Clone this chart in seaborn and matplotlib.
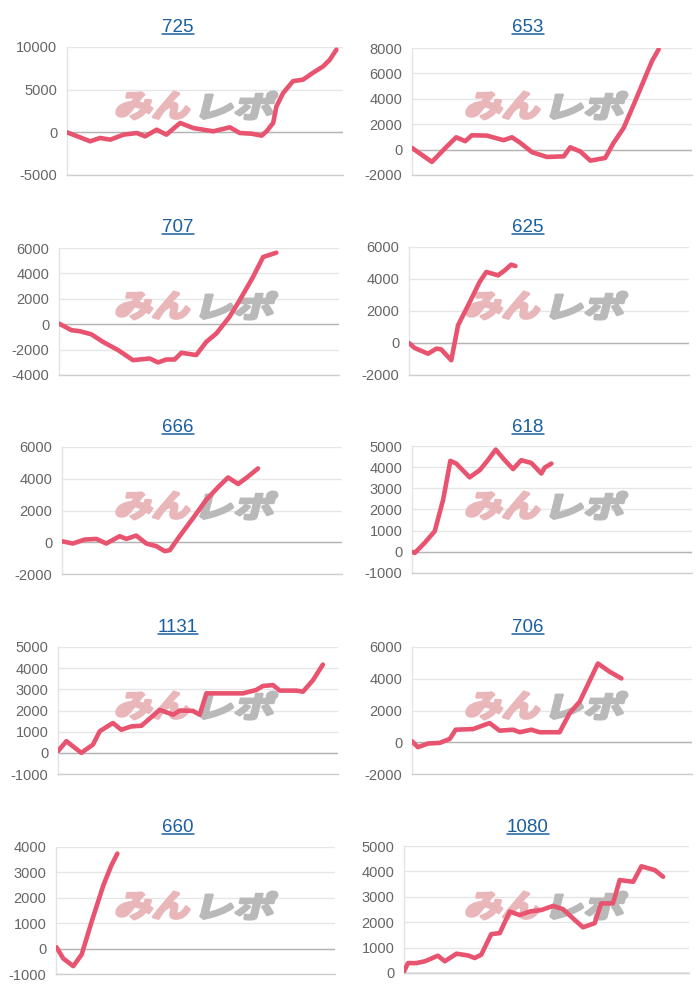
import matplotlib
matplotlib.use("Agg")
import matplotlib.pyplot as plt
import seaborn as sns
import pandas as pd
from matplotlib.textpath import TextPath
from matplotlib.font_manager import FontProperties
from matplotlib.patches import PathPatch
from matplotlib.transforms import Affine2D, IdentityTransform
from matplotlib.lines import Line2D

# ---------------- data ----------------
titles = ["725", "653", "707", "625", "666", "618", "1131", "706", "660", "1080"]

# x = progress of the day (0-100 % of the common x range), y = difference in medals
x_725 = [0, 8.4, 12, 15.7, 20.5, 25.3, 28.3, 32.5, 36, 41, 45.8, 53, 59, 62.6, 66.9, 70.5, 72.3, 74.7, 75.9, 78.3, 81.9, 85.5, 89, 92.8, 95.2, 97.6]
y_725 = [0, -1050, -660, -860, -270, -80, -470, 310, -270, 1100, 500, 120, 590, -80, -160, -390, 120, 1100, 3050, 4600, 6000, 6170, 6950, 7730, 8500, 9690]

x_653 = [0, 7.1, 12.5, 15.8, 19, 21.4, 26.8, 32.7, 35.7, 38.7, 42.9, 48.2, 54.2, 56.5, 60.1, 63.7, 69, 72, 75.6, 79.2, 82.7, 85.7, 88.1]
y_653 = [130, -970, 260, 970, 660, 1130, 1100, 740, 970, 530, -210, -580, -530, 180, -150, -870, -660, 530, 1710, 3550, 5390, 6970, 7900]

x_707 = [0, 4.4, 7.4, 11.5, 15.7, 21.1, 26.4, 32.4, 35.4, 38.3, 41.3, 43.7, 49, 52.6, 56.2, 60.9, 64.5, 69.3, 72.9, 77.6]
y_707 = [50, -470, -550, -790, -1390, -2040, -2830, -2700, -3010, -2780, -2780, -2250, -2430, -1390, -730, 580, 1880, 3720, 5290, 5630]

x_625 = [0, 2, 6.8, 9.8, 11.5, 15.1, 17.5, 21.7, 25.2, 27.6, 31.8, 34.2, 36.5, 38]
y_625 = [0, -310, -670, -350, -400, -1080, 1100, 2560, 3810, 4440, 4230, 4540, 4900, 4810]

x_666 = [0, 3.9, 8.1, 12.3, 15.8, 20.6, 23, 26.5, 30.1, 33.7, 36.7, 38.5, 42, 46.8, 51.5, 55.7, 59.3, 62.9, 66.4, 70]
y_666 = [60, -80, 170, 210, -80, 380, 210, 420, -80, -250, -560, -500, 380, 1520, 2670, 3460, 4080, 3670, 4130, 4650]

x_618 = [0, 1, 4.5, 8.1, 11.1, 13.7, 15.8, 20.6, 24.2, 27.1, 29.9, 33.1, 36.1, 39, 42.6, 46.2, 47.4, 49.8]
y_618 = [0, -50, 420, 970, 2450, 4300, 4170, 3520, 3860, 4330, 4830, 4330, 3910, 4330, 4200, 3700, 3980, 4170]

x_1131 = [0, 3, 8.3, 12.5, 14.9, 19.6, 22.6, 26.2, 29.8, 36.3, 41.1, 43.5, 48.2, 50.6, 53, 66.1, 70.8, 73.2, 76.8, 79.2, 85.1, 87.5, 91.1, 94.6]
y_1131 = [80, 550, 0, 390, 1020, 1410, 1090, 1250, 1280, 2030, 1800, 2000, 1980, 1800, 2810, 2810, 2970, 3160, 3200, 2940, 2940, 2890, 3440, 4170]

x_706 = [0, 2.1, 5.7, 9.9, 13.5, 15.6, 21.8, 27.7, 31.3, 36.1, 38.5, 42.6, 45.6, 52.7, 56.3, 59.9, 66.4, 70.6, 74.8]
y_706 = [60, -310, -80, -40, 210, 790, 830, 1210, 730, 790, 630, 790, 630, 630, 1830, 2560, 4960, 4440, 4020]

x_660 = [0.2, 2.6, 6.2, 9.2, 12.8, 17, 19.9, 22]
y_660 = [50, -390, -690, -230, 1070, 2500, 3290, 3740]

x_1080 = [0, 1.4, 4.3, 7.3, 11.9, 14.3, 18.4, 22.5, 24.8, 27.1, 30.6, 33.6, 37.1, 40.6, 44.1, 48.2, 52.3, 55.8, 59.3, 62.8, 66.9, 69.2, 73.3, 75.7, 80.4, 83.3, 88, 90.9]
y_1080 = [60, 390, 390, 460, 680, 460, 760, 690, 590, 720, 1530, 1570, 2420, 2280, 2420, 2480, 2640, 2510, 2150, 1800, 1960, 2740, 2740, 3660, 3590, 4200, 4050, 3790]

yticks_725 = [-5000, 0, 5000, 10000]
yticks_653 = [-2000, 0, 2000, 4000, 6000, 8000]
yticks_707 = [-4000, -2000, 0, 2000, 4000, 6000]
yticks_625 = [-2000, 0, 2000, 4000, 6000]
yticks_666 = [-2000, 0, 2000, 4000, 6000]
yticks_618 = [-1000, 0, 1000, 2000, 3000, 4000, 5000]
yticks_1131 = [-1000, 0, 1000, 2000, 3000, 4000, 5000]
yticks_706 = [-2000, 0, 2000, 4000, 6000]
yticks_660 = [-1000, 0, 1000, 2000, 3000, 4000]
yticks_1080 = [0, 1000, 2000, 3000, 4000, 5000]

series_x = [x_725, x_653, x_707, x_625, x_666, x_618, x_1131, x_706, x_660, x_1080]
series_y = [y_725, y_653, y_707, y_625, y_666, y_618, y_1131, y_706, y_660, y_1080]
series_ticks = [yticks_725, yticks_653, yticks_707, yticks_625, yticks_666,
                yticks_618, yticks_1131, yticks_706, yticks_660, yticks_1080]

# ---------------- layout (pixels: left, top, right, bottom) ----------------
boxes = [
    (67, 47, 343, 175), (412, 48, 692, 175),
    (59, 248, 339, 375), (409, 247, 689, 375),
    (62, 447, 342, 574), (412, 446, 692, 573),
    (58, 647, 338, 774), (412, 647, 692, 774),
    (56, 847, 335, 974), (404, 846, 689, 973),
]

sns.set_theme(style="white")
plt.rcParams['font.family'] = ['Liberation Sans', 'DejaVu Sans']

W, H = 700, 1000
fig = plt.figure(figsize=(7, 10), dpi=100)
fig.patch.set_facecolor("white")

LINE = "#e8546f"
TITLE = "#1b5f9e"
wm_fp = FontProperties(family="Noto Sans CJK JP", weight="bold")


def wm_patch(text, x0, x1, ytop, ybot, color):
    tp = TextPath((0, 0), text, size=40, prop=wm_fp)
    ext = tp.get_extents()
    sx = (x1 - x0) / ext.width
    sy = (ybot - ytop) / ext.height
    tr = (Affine2D().translate(-ext.x0, -ext.y0).scale(sx, sy)
          .skew_deg(14, 0).translate(x0 - 4, H - ybot))
    path = tr.transform_path(tp)
    return PathPatch(path, facecolor=color, edgecolor=color, linewidth=2.2,
                     joinstyle="round", transform=IdentityTransform(),
                     clip_on=False, zorder=2)


title_texts = []
for i, (t, xs, ys, ticks, box) in enumerate(zip(titles, series_x, series_y, series_ticks, boxes)):
    l, tp_, r, b = box
    ax = fig.add_axes([l / W, 1 - b / H, (r - l) / W, (b - tp_) / H])
    ax.set_facecolor("white")
    df = pd.DataFrame({"x": xs, "y": ys})
    sns.lineplot(data=df, x="x", y="y", ax=ax, color=LINE, linewidth=3.3,
                 zorder=4, solid_capstyle="round", solid_joinstyle="round")
    ax.set_xlim(0, 100)
    ax.set_ylim(ticks[0], ticks[-1])
    ax.set_yticks(ticks)
    ax.set_yticklabels([str(v) for v in ticks])
    ax.set_xticks([])
    ax.set_xlabel("")
    ax.set_ylabel("")
    ax.tick_params(axis="y", length=0, pad=7, labelsize=10.5, labelcolor="#666666")
    ax.yaxis.grid(True, color="#e6e6e6", linewidth=1.0, zorder=0)
    ax.set_axisbelow(True)
    ax.axhline(0, color="#b4b4b4", linewidth=1.0, zorder=1)
    for s in ["top", "right"]:
        ax.spines[s].set_visible(False)
    ax.spines["left"].set_color("#e3e3e3")
    ax.spines["left"].set_linewidth(1.0)
    ax.spines["bottom"].set_color("#cfcfcf")
    ax.spines["bottom"].set_linewidth(1.0)

    col = i % 2
    row = i // 2
    ox = 350 * col
    oy = 200 * row
    # watermark
    ax.add_artist(wm_patch("みん", ox + 119, ox + 191, oy + 92, oy + 119, "#e9b7ba"))
    ax.add_artist(wm_patch("レポ", ox + 204, ox + 275, oy + 92, oy + 119, "#b9b9b9"))

    tx = (178 if col == 0 else 528)
    tt = fig.text(tx / W, 1 - (oy + 31.5) / H, t, ha="center", va="baseline",
                  fontsize=13.5, color=TITLE)
    title_texts.append((tt, oy))

fig.canvas.draw()
renderer = fig.canvas.get_renderer()
for tt, oy in title_texts:
    bb = tt.get_window_extent(renderer)
    yline = H - (oy + 34)
    fig.add_artist(Line2D([bb.x0, bb.x1], [yline, yline], transform=IdentityTransform(),
                          color=TITLE, linewidth=1.1))

fig.savefig("out.png", dpi=100, facecolor="white")
